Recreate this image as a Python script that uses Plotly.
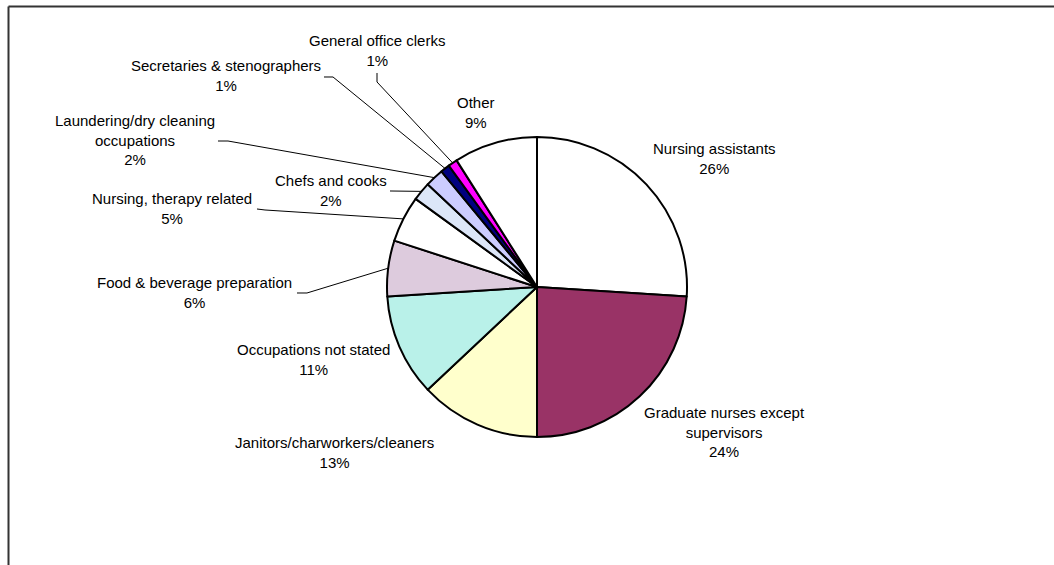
import math
import plotly.graph_objects as go

# Occupation shares (percent), listed clockwise from 12 o'clock
labels = [
    "Nursing assistants",
    "Graduate nurses except supervisors",
    "Janitors/charworkers/cleaners",
    "Occupations not stated",
    "Food & beverage preparation",
    "Nursing, therapy related",
    "Chefs and cooks",
    "Laundering/dry cleaning occupations",
    "Secretaries & stenographers",
    "General office clerks",
    "Other",
]
values = [26, 24, 13, 11, 6, 5, 2, 2, 1, 1, 9]
colors = [
    "#FFFFFF", "#993366", "#FFFFCC", "#B9F1E9", "#DDCBDD", "#FFFFFF",
    "#DCE6F8", "#CCCCFF", "#000080", "#FF00FF", "#FFFFFF",
]
# Label text as it is wrapped on the chart
label_text = [
    "Nursing assistants<br>26%",
    "Graduate nurses except<br>supervisors<br>24%",
    "Janitors/charworkers/cleaners<br>13%",
    "Occupations not stated<br>11%",
    "Food & beverage preparation<br>6%",
    "Nursing, therapy related<br>5%",
    "Chefs and cooks<br>2%",
    "Laundering/dry cleaning<br>occupations<br>2%",
    "Secretaries & stenographers<br>1%",
    "General office clerks<br>1%",
    "Other<br>9%",
]

W, H = 1054, 565
CX, CY, R = 537, 287, 150  # pie centre and radius in pixels

# Label centre positions (pixels)
label_pos = [
    (714, 158), (724, 432), (334, 452), (313, 359), (194, 292),
    (172, 208), (331, 190), (135, 140), (226, 76), (377, 50), (476, 112),
]
# Where each leader line leaves its label (None = no leader line)
leader_start = [
    None, None, None, None,
    [(297, 293), (307, 293)],
    [(257, 209), (265, 210)],
    [(390, 191)],
    [(218, 141), (228, 141)],
    [(324, 77), (333, 77)],
    [(377, 73), (377, 82)],
    None,
]


def px(x):
    return x / W


def py(y):
    return 1 - y / H


fig = go.Figure(
    go.Pie(
        labels=labels,
        values=values,
        sort=False,
        direction="clockwise",
        rotation=0,
        marker=dict(colors=colors, line=dict(color="#000000", width=2)),
        textinfo="none",
        hoverinfo="label+percent",
        showlegend=False,
        domain=dict(
            x=[px(CX - R), px(CX + R)],
            y=[py(CY + R), py(CY - R)],
        ),
    )
)

annotations = []
for txt, (lx, ly) in zip(label_text, label_pos):
    annotations.append(
        dict(
            x=px(lx), y=py(ly), xref="paper", yref="paper",
            text=txt, showarrow=False, xanchor="center", yanchor="middle",
            font=dict(family="Liberation Sans, Arial", size=15, color="#000000"),
        )
    )

# Leader lines run from the label to the mid-angle point on the slice edge
shapes = []
total = sum(values)
cum = 0
for v, start in zip(values, leader_start):
    mid = (cum + v / 2) / total * 2 * math.pi
    cum += v
    if start is None:
        continue
    ex = CX + R * math.sin(mid)
    ey = CY - R * math.cos(mid)
    pts = list(start) + [(ex, ey)]
    path = "M " + " L ".join(f"{px(x):.5f},{py(y):.5f}" for x, y in pts)
    shapes.append(
        dict(type="path", xref="paper", yref="paper", path=path,
             line=dict(color="#000000", width=1))
    )

# Chart area frame (top and left edges visible)
shapes.append(dict(type="line", xref="paper", yref="paper",
                   x0=px(8.5), y0=py(6.5), x1=1.02, y1=py(6.5),
                   line=dict(color="#333333", width=2)))
shapes.append(dict(type="line", xref="paper", yref="paper",
                   x0=px(8.5), y0=py(6.5), x1=px(8.5), y1=-0.02,
                   line=dict(color="#333333", width=2)))

fig.update_layout(
    width=W,
    height=H,
    margin=dict(l=0, r=0, t=0, b=0),
    paper_bgcolor="#FFFFFF",
    plot_bgcolor="#FFFFFF",
    annotations=annotations,
    shapes=shapes,
)

fig.write_html("out.html")
